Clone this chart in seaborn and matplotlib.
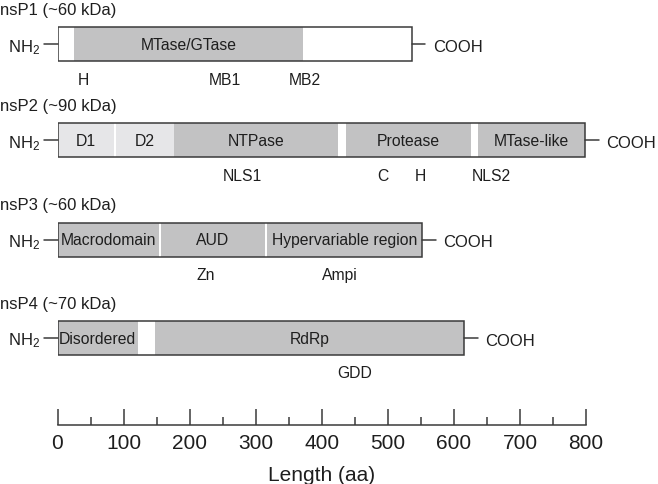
import pandas as pd
import matplotlib.pyplot as plt
from matplotlib.ticker import MultipleLocator
import seaborn as sns

sns.set_theme(style="white")
plt.rcParams['font.family'] = ['Liberation Sans', 'DejaVu Sans']
plt.rcParams['mathtext.default'] = 'regular'

# ----------------------------------------------
# Data (positions in amino acids)
# ----------------------------------------------
proteins = ["nsP1", "nsP2", "nsP3", "nsP4"]
mass_kda = ["~60", "~90", "~60", "~70"]
lengths = [536, 798, 552, 616]

domain_protein = ["nsP1", "nsP2", "nsP2", "nsP2", "nsP2", "nsP2",
                  "nsP3", "nsP3", "nsP3", "nsP4", "nsP4"]
domain_names = ["MTase/GTase", "D1", "D2", "NTPase", "Protease", "MTase-like",
                "Macrodomain", "AUD", "Hypervariable region", "Disordered", "RdRp"]
domain_start = [25, 0, 88, 176, 437, 637, 0, 157, 317, 0, 148]
domain_end = [372, 85, 176, 425, 626, 798, 154, 314, 552, 122, 616]
domain_kind = ["main", "sub", "sub", "main", "main", "main",
               "main", "main", "main", "main", "main"]

motif_protein = ["nsP1", "nsP1", "nsP1", "nsP2", "nsP2", "nsP2", "nsP2",
                 "nsP3", "nsP3", "nsP4"]
motif_names = ["H", "MB1", "MB2", "NLS1", "C", "H", "NLS2", "Zn", "Ampi", "GDD"]
motif_pos = [39, 254, 375, 280, 493, 550, 656, 225, 428, 450]

domains = pd.DataFrame({'protein': domain_protein, 'name': domain_names,
                        'start': domain_start, 'end': domain_end, 'kind': domain_kind})
motifs = pd.DataFrame({'protein': motif_protein, 'name': motif_names, 'pos': motif_pos})

# ----------------------------------------------
# Layout / style (y in pixels from the top)
# ----------------------------------------------
row_y = {"nsP1": 45.3, "nsP2": 141.2, "nsP3": 240.5, "nsP4": 338.8}
box_h = 34
axis_y = 425.7
edge = "#3a3a3a"
txt = "#1e1e1e"
shade = {"main": "#c2c2c3", "sub": "#e6e6e8"}

fig = plt.figure(figsize=(6.58, 4.85), dpi=100)
ax = fig.add_axes([57.5 / 658, 0, 528.5 / 658, 1])
ax.set_xlim(0, 800)
ax.set_ylim(485, 0)

domains['y'] = domains['protein'].map(row_y)
motifs['y'] = motifs['protein'].map(row_y)

# white box background
for p, L in zip(proteins, lengths):
    ax.barh(row_y[p], L, left=0, height=box_h, color='white', linewidth=0, zorder=1)

# domains
ax.barh(domains['y'], domains['end'] - domains['start'], left=domains['start'],
        height=box_h, color=domains['kind'].map(shade), linewidth=0, zorder=2)

# outlines, termini, titles
for p, L, kda in zip(proteins, lengths, mass_kda):
    y = row_y[p]
    ax.barh(y, L, left=0, height=box_h, fill=False, edgecolor=edge,
            linewidth=1.1, zorder=3)
    ax.plot([-20, 0], [y, y], color=edge, lw=1.1, clip_on=False, zorder=3)
    ax.plot([L, L + 21], [y, y], color=edge, lw=1.1, clip_on=False, zorder=3)
    ax.text(-26, y + 7, "NH$_2$", ha='right', va='baseline', fontsize=12, color=txt)
    ax.text(L + 32, y + 7, "COOH", ha='left', va='baseline', fontsize=12, color=txt)
    ax.text(-87, y - box_h / 2 - 13, f"{p} ({kda} kDa)", ha='left', va='baseline',
            fontsize=12, color=txt)

for _, r in domains.iterrows():
    ax.text((r['start'] + r['end']) / 2, r['y'] + 5, r['name'], ha='center',
            va='baseline', fontsize=11.3, color=txt, zorder=4)

for _, r in motifs.iterrows():
    ax.text(r['pos'], r['y'] + box_h / 2 + 22.5, r['name'], ha='center',
            va='baseline', fontsize=11.3, color=txt)

# length scale
sns.despine(ax=ax, left=True)
ax.spines['bottom'].set_position(('data', axis_y))
ax.spines['bottom'].set_color(edge)
ax.spines['bottom'].set_linewidth(1.1)
ax.set_yticks([])
ax.xaxis.set_major_locator(MultipleLocator(100))
ax.xaxis.set_minor_locator(MultipleLocator(50))
ax.tick_params(axis='x', which='major', bottom=True, direction='in', length=11.5,
               width=1.1, color=edge, pad=6, labelsize=15, labelcolor=txt)
ax.tick_params(axis='x', which='minor', bottom=True, direction='in', length=5.8,
               width=1.1, color=edge)
ax.set_xlabel("Length (aa)", fontsize=15, labelpad=9, color=txt)

fig.savefig("out.png", dpi=100)
